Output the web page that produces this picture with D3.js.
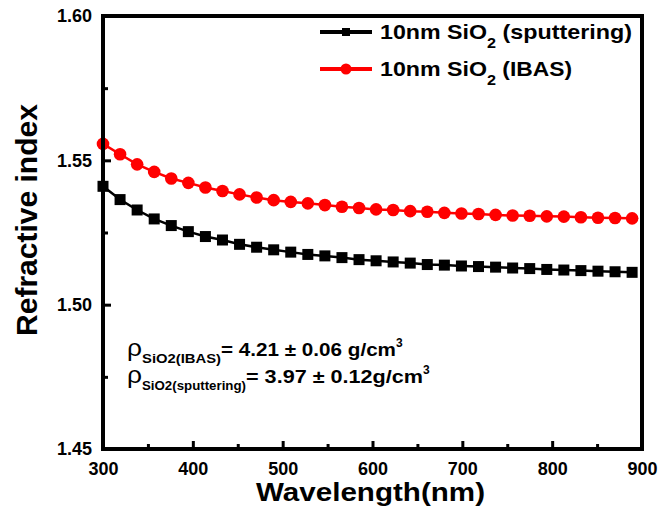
<!DOCTYPE html>
<html>
<head>
<meta charset="utf-8">
<script src="https://cdn.jsdelivr.net/npm/d3@7"></script>
<style>
  body { margin: 0; background: #fff; }
  svg { display: block; font-family: "Liberation Sans", Arial, sans-serif; }
  text { white-space: pre; }
</style>
</head>
<body>
<svg id="chart"></svg>
<script>
// data
const wavelength = [300, 319, 338, 357, 376, 395, 414, 433, 452, 471, 490, 509, 528, 547, 566, 585,
  604, 623, 642, 661, 680, 699, 718, 737, 756, 775, 794, 813, 832, 851, 870, 889];
const nSputtering = [1.5410, 1.5364, 1.5328, 1.5297, 1.5274, 1.5253, 1.5236, 1.5224, 1.5209, 1.5199,
  1.5190, 1.5182, 1.5174, 1.5169, 1.5163, 1.5156, 1.5152, 1.5148, 1.5144, 1.5139, 1.5137, 1.5134,
  1.5132, 1.5130, 1.5127, 1.5125, 1.5122, 1.5120, 1.5118, 1.5116, 1.5114, 1.5112];
const nIBAS = [1.5557, 1.5521, 1.5486, 1.5460, 1.5437, 1.5422, 1.5406, 1.5394, 1.5382, 1.5371,
  1.5362, 1.5356, 1.5351, 1.5345, 1.5339, 1.5335, 1.5330, 1.5328, 1.5324, 1.5322, 1.5318, 1.5316,
  1.5314, 1.5311, 1.5309, 1.5308, 1.5306, 1.5305, 1.5303, 1.5301, 1.5300, 1.5299];
const xTicks = [300, 400, 500, 600, 700, 800, 900];
const xMinor = [350, 450, 550, 650, 750, 850];
const yTicks = [1.45, 1.50, 1.55, 1.60];
const yMinor = [1.475, 1.525, 1.575];

const width = 671, height = 517;
const svg = d3.select("#chart").attr("width", width).attr("height", height);

const x = d3.scaleLinear().domain([300, 900]).range([103, 642]);
const y = d3.scaleLinear().domain([1.45, 1.60]).range([449, 16]);

//ticks + labels
const gx = svg.append("g").attr("transform", "translate(0," + y(1.45) + ")")
  .call(d3.axisBottom(x).tickValues(xTicks).tickSizeInner(-8).tickSizeOuter(0).tickPadding(13).tickFormat(d3.format("d")));
const gxm = svg.append("g").attr("transform", "translate(0," + y(1.45) + ")")
  .call(d3.axisBottom(x).tickValues(xMinor).tickSizeInner(-5).tickSizeOuter(0).tickFormat(""));
const gy = svg.append("g").attr("transform", "translate(" + x(300) + ",0)")
  .call(d3.axisLeft(y).tickValues(yTicks).tickSizeInner(-8).tickSizeOuter(0).tickPadding(11).tickFormat(d3.format(".2f")));
const gym = svg.append("g").attr("transform", "translate(" + x(300) + ",0)")
  .call(d3.axisLeft(y).tickValues(yMinor).tickSizeInner(-5).tickSizeOuter(0).tickFormat(""));

[gx, gxm, gy, gym].forEach(g => {
  g.select(".domain").remove();
  g.selectAll(".tick line").attr("stroke", "#000").attr("stroke-width", 3);
  g.selectAll(".tick text").attr("fill", "#000").style("font-size", "18px").style("font-weight", "bold");
});

//series
const line = d3.line().x(d => x(d[0])).y(d => y(d[1]));
const black = wavelength.map((w, i) => [w, nSputtering[i]]);
const red = wavelength.map((w, i) => [w, nIBAS[i]]);

const plot = svg.append("g");
plot.append("path").datum(black).attr("d", line).attr("fill", "none").attr("stroke", "#000").attr("stroke-width", 2.5);
plot.append("path").datum(red).attr("d", line).attr("fill", "none").attr("stroke", "#ff0000").attr("stroke-width", 2.5);
plot.selectAll("rect.m").data(black).join("rect").attr("class", "m")
  .attr("x", d => x(d[0]) - 5.5).attr("y", d => y(d[1]) - 5.5)
  .attr("width", 11).attr("height", 11).attr("fill", "#000");
plot.selectAll("circle.m").data(red).join("circle").attr("class", "m")
  .attr("cx", d => x(d[0])).attr("cy", d => y(d[1])).attr("r", 6.3).attr("fill", "#ff0000");

//frame
svg.append("rect").attr("x", x(300)).attr("y", y(1.60))
  .attr("width", x(900) - x(300)).attr("height", y(1.45) - y(1.60))
  .attr("fill", "none").attr("stroke", "#000").attr("stroke-width", 4);

//axis titles
svg.append("text").attr("x", 370.5).attr("y", 501).attr("text-anchor", "middle")
  .style("font-size", "26px").style("font-weight", "bold")
  .attr("textLength", 229).attr("lengthAdjust", "spacingAndGlyphs")
  .text("Wavelength(nm)");
svg.append("text").attr("transform", "translate(37,220) rotate(-90)").attr("text-anchor", "middle")
  .style("font-size", "30px").style("font-weight", "bold")
  .text("Refractive index");

//rich text: each part stretched to the width it has in the figure
function rich(x0, y0, parts) {
  let cx = x0;
  parts.forEach(p => {
    const t = svg.append("text").attr("x", cx).attr("y", y0 + (p.dy || 0))
      .style("font-size", p.size + "px").style("font-weight", p.weight || "bold")
      .attr("fill", "#000").text(p.text);
    if (p.w) t.attr("textLength", p.w).attr("lengthAdjust", "spacingAndGlyphs");
    cx += p.w || t.node().getComputedTextLength();
  });
}

//legend
const legend = [
  { label: " (sputtering)", lw: 136, color: "#000", shape: "square", y: 32 },
  { label: " (IBAS)", lw: 76, color: "#ff0000", shape: "circle", y: 69 }
];
legend.forEach(l => {
  svg.append("line").attr("x1", 320).attr("x2", 372).attr("y1", l.y).attr("y2", l.y)
    .attr("stroke", l.color).attr("stroke-width", 4);
  if (l.shape == "square")
    svg.append("rect").attr("x", 342).attr("y", l.y - 4).attr("width", 8).attr("height", 8).attr("fill", l.color);
  else
    svg.append("circle").attr("cx", 346).attr("cy", l.y).attr("r", 5.5).attr("fill", l.color);
  rich(380, l.y + 7, [
    { text: "10nm SiO", size: 21, w: 107 },
    { text: "2", size: 14, dy: 9, w: 9 },
    { text: l.label, size: 21, w: l.lw }
  ]);
});

//density annotation
rich(127, 356, [
  { text: "ρ", size: 24, weight: "normal", w: 15 },
  { text: "SiO2(IBAS)", size: 13, dy: 7, w: 79 },
  { text: "= 4.21 ± 0.06 g/cm", size: 19, w: 175 },
  { text: "3", size: 12, dy: -9 }
]);
rich(127, 383, [
  { text: "ρ", size: 24, weight: "normal", w: 15 },
  { text: "SiO2(sputtering)", size: 13, dy: 7, w: 104 },
  { text: "= 3.97 ± 0.12g/cm", size: 19, w: 177 },
  { text: "3", size: 12, dy: -9 }
]);
</script>
</body>
</html>
